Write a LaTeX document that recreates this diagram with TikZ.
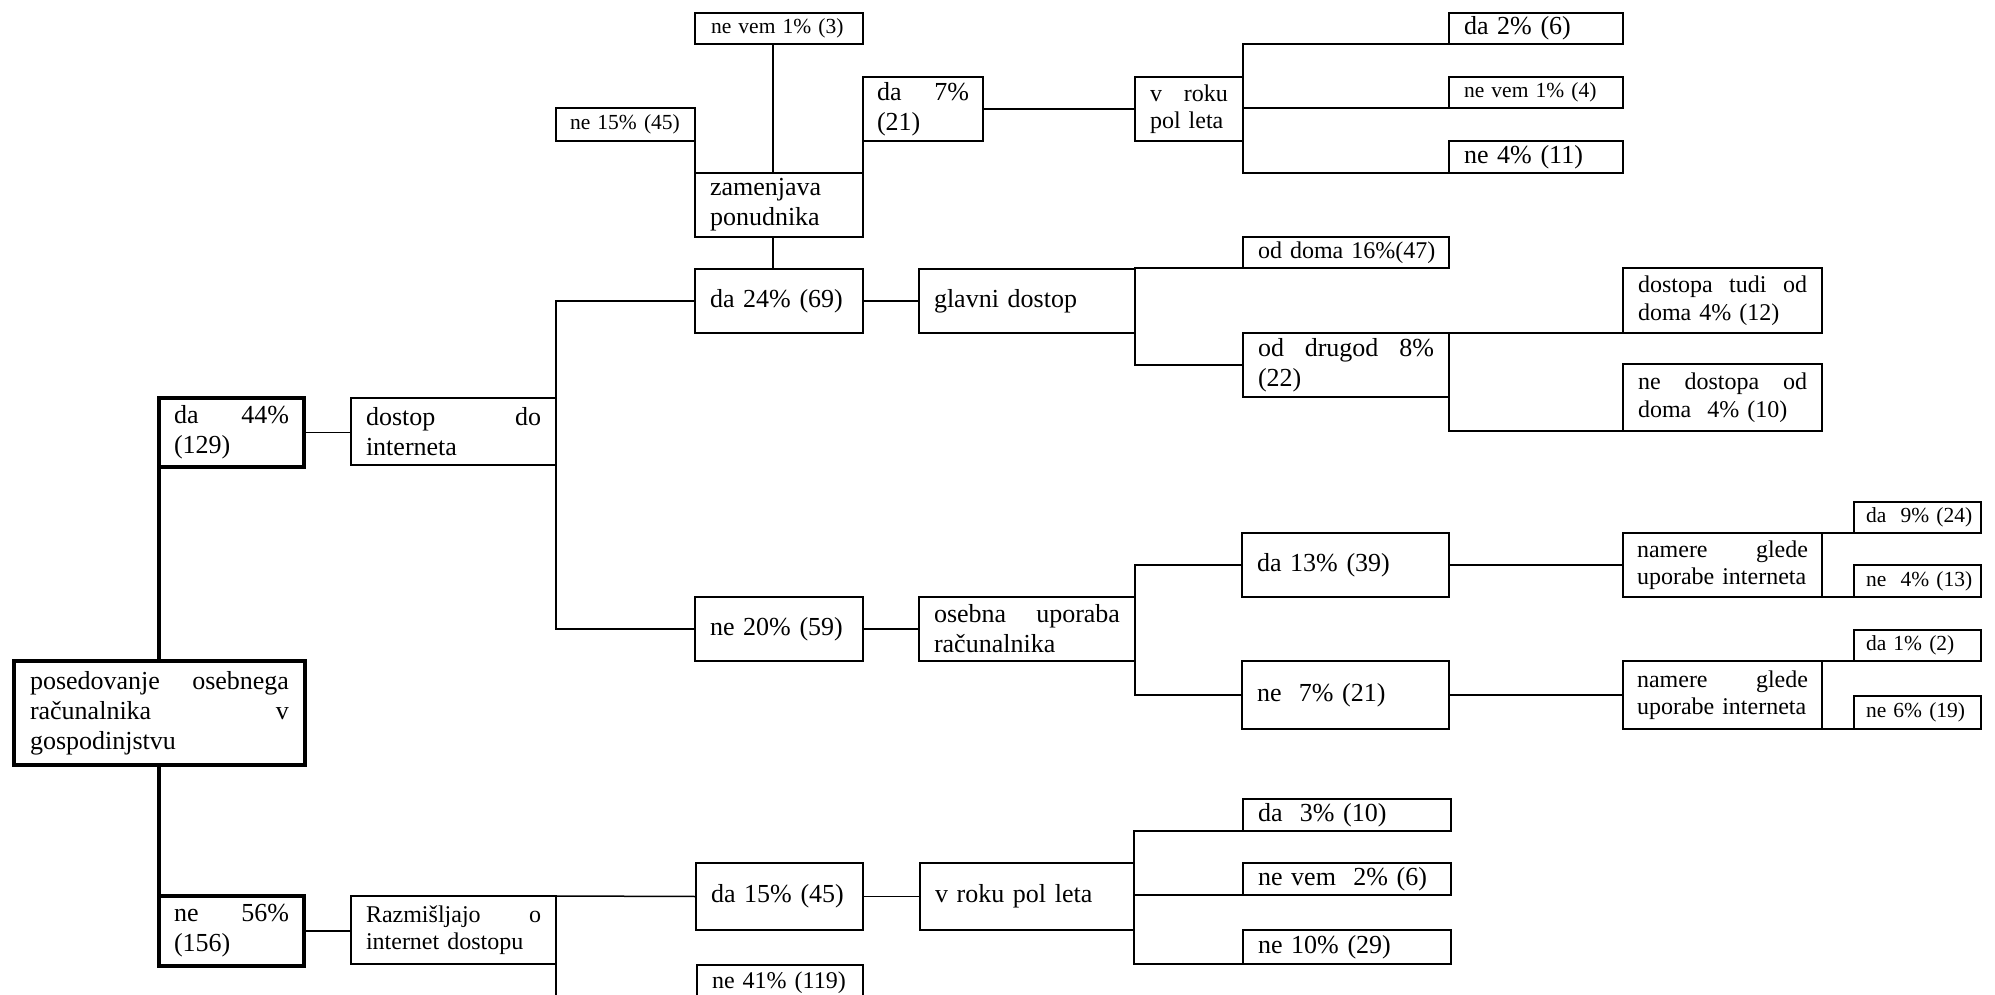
\documentclass[tikz,border=0pt]{standalone}
\usepackage{fontspec}
\setmainfont{Liberation Serif}
\newcommand\fmain{\fontsize{26}{30}\selectfont}
\newcommand\fmed{\fontsize{24}{27.5}\selectfont}
\newcommand\fsml{\fontsize{21.5}{25}\selectfont}
\newcommand\jl[1]{\leavevmode\hbox to\hsize{#1}}
\tikzset{
  box/.style={draw, rectangle, line width=1.5pt, inner ysep=0pt, outer sep=0pt, align=left, font=\fmain},
  thickbox/.style={line width=3.6pt},
  med/.style={font=\fmed},
  sml/.style={font=\fsml},
  ln/.style={line width=1.5pt},
  thk/.style={line width=3.6pt},
}
% [opts]{name}{L}{T}{R}{B}{pad}{text}
\newcommand\bx[8][]{%
  \pgfmathsetmacro\bxw{#5-#3}\pgfmathsetmacro\bxh{#6-#4}%
  \pgfmathsetmacro\bxx{(#3+#5)/2}\pgfmathsetmacro\bxy{(#4+#6)/2}%
  \node[box,#1,minimum width=\bxw pt,minimum height=\bxh pt,inner xsep=#7pt,text width=\bxw pt-2*#7pt] (#2) at (\bxx,\bxy) {#8};}
\begin{document}
\begin{tikzpicture}[x=1pt,y=-1pt]
\useasboundingbox (0,0) rectangle (1995,995);
% level 0/1
\bx[thickbox]{root}{14}{661}{305}{765}{16}{\jl{posedovanje\hfill osebnega}\\\jl{računalnika\hfill v}\\\mbox{gospodinjstvu}}
\bx[thickbox]{da44}{159}{398}{304}{467}{15}{\jl{da\hfill 44\%}\\\mbox{(129)}}
\bx[thickbox]{ne56}{159}{896}{304}{966}{15}{\jl{ne\hfill 56\%}\\\mbox{(156)}}
\bx{dostop}{351}{398}{556}{465}{15}{\jl{dostop\hfill do}\\\mbox{interneta}}
\bx[med]{razm}{351}{896}{556}{964}{15}{\jl{Razmišljajo\hfill o}\\\mbox{internet dostopu}}
% upper branch
\bx[sml]{nevemA}{695}{13}{863}{44}{16}{\mbox{ne vem 1\% (3)}}
\bx[sml]{neA}{556}{108}{695}{141}{14}{\mbox{ne 15\% (45)}}
\bx{zam}{695}{173}{863}{237}{15}{\mbox{zamenjava}\\\mbox{ponudnika}}
\bx{daB}{863}{77}{983}{141}{14}{\jl{da\hfill 7\%}\\\mbox{(21)}}
\bx[med]{rokA}{1135}{77}{1243}{141}{15}{\jl{v\hfill roku}\\\mbox{pol leta}}
\bx{daC}{1449}{13}{1623}{44}{15}{\mbox{da 2\% (6)}}
\bx[sml]{nevemB}{1449}{77}{1623}{108}{15}{\mbox{ne vem 1\% (4)}}
\bx{neC}{1449}{141}{1623}{173}{15}{\mbox{ne 4\% (11)}}
\bx{daD}{695}{269}{863}{333}{15}{\mbox{da 24\% (69)}}
\bx{glavni}{919}{269}{1135}{333}{15}{\mbox{glavni dostop}}
\bx[med]{oddoma}{1243}{237}{1449}{268}{15}{\mbox{od doma 16\%(47)}}
\bx{oddrugod}{1243}{333}{1449}{397}{15}{\jl{od\hfill drugod\hfill 8\%}\\\mbox{(22)}}
\bx[med]{tudi}{1623}{268}{1822}{333}{15}{\jl{dostopa\hfill tudi\hfill od}\\\mbox{doma 4\% (12)}}
\bx[med]{nedost}{1623}{364}{1822}{431}{15}{\jl{ne\hfill dostopa\hfill od}\\\mbox{doma\ \ 4\% (10)}}
% middle branch
\bx{neD}{695}{597}{863}{661}{15}{\mbox{ne 20\% (59)}}
\bx{osebna}{919}{597}{1135}{661}{15}{\jl{osebna\hfill uporaba}\\\mbox{računalnika}}
\bx{daE}{1242}{533}{1449}{597}{15}{\mbox{da 13\% (39)}}
\bx{neE}{1242}{661}{1449}{729}{15}{\mbox{ne\ \ 7\% (21)}}
\bx[med]{namA}{1623}{533}{1822}{597}{14}{\jl{namere\hfill glede}\\\mbox{uporabe interneta}}
\bx[sml]{daF}{1854}{502}{1981}{533}{12}{\mbox{da\ \ 9\% (24)}}
\bx[sml]{neF}{1854}{565}{1981}{597}{12}{\mbox{ne\ \ 4\% (13)}}
\bx[med]{namB}{1623}{661}{1822}{729}{14}{\jl{namere\hfill glede}\\\mbox{uporabe interneta}}
\bx[sml]{daG}{1854}{630}{1981}{661}{12}{\mbox{da 1\% (2)}}
\bx[sml]{neG}{1854}{696}{1981}{729}{12}{\mbox{ne 6\% (19)}}
% lower branch
\bx{daH}{696}{863}{863}{930}{15}{\mbox{da 15\% (45)}}
\bx{rokB}{920}{863}{1134}{930}{15}{\mbox{v roku pol leta}}
\bx{daI}{1243}{799}{1451}{831}{15}{\mbox{da\ \ 3\% (10)}}
\bx{nevemC}{1243}{863}{1451}{895}{15}{\mbox{ne vem\ \ 2\% (6)}}
\bx{neI}{1243}{930}{1451}{964}{15}{\mbox{ne 10\% (29)}}
\bx[med]{neH}{697}{965}{863}{1000}{15}{\mbox{ne 41\% (119)}}
\coordinate (cut) at (556,1040);
% connectors
\draw[thk] (da44.south west) -- (da44.south west |- root.north);
\draw[thk] (ne56.north west |- root.south) -- (ne56.north west);
\draw[ln] (da44.east) -- (da44.east -| dostop.west);
\draw[ln] (ne56.east) -- (ne56.east -| razm.west);
\draw[ln] (daD.west) -| (neD.west -| dostop.east) -- (neD.west);
\draw[ln] (daD.east) -- (glavni.west);
\draw[ln] ([xshift=-6pt]nevemA.south) -- ([xshift=-6pt]zam.north);
\draw[ln] ([xshift=-6pt]zam.south) -- ([xshift=-6pt]daD.north);
\draw[ln] (neA.south east) -- (zam.north west);
\draw[ln] (daB.south west) -- (zam.north east);
\draw[ln] (daB.east) -- (rokA.west);
\draw[ln] (daC.south west) -| (neC.south west -| rokA.east) -- (neC.south west);
\draw[ln] (nevemB.south west -| rokA.east) -- (nevemB.south west);
\draw[ln] (oddoma.south west) -| (oddrugod.west -| glavni.east) -- (oddrugod.west);
\draw[ln] (oddrugod.north east) -- (tudi.south west);
\draw[ln] (oddrugod.south east) |- (nedost.south west);
\draw[ln] (neD.east) -- (osebna.west);
\draw[ln] (daE.west) -| (neE.west -| osebna.east) -- (neE.west);
\draw[ln] (daE.east) -- (namA.west);
\draw[ln] (neE.east) -- (namB.west);
\draw[ln] (namA.north east) -- (daF.south west);
\draw[ln] (namA.south east) -- (neF.south west);
\draw[ln] (namB.north east) -- (daG.south west);
\draw[ln] (namB.south east) -- (neG.south west);
\draw[ln] (razm.north east) -- (daH.west);
\draw[ln] (razm.south east) -- (cut);
\draw[ln] (daH.east) -- (rokB.west);
\draw[ln] (daI.south west) -| (neI.south west -| rokB.east) -- (neI.south west);
\draw[ln] (nevemC.south west -| rokB.east) -- (nevemC.south west);
\end{tikzpicture}
\end{document}
